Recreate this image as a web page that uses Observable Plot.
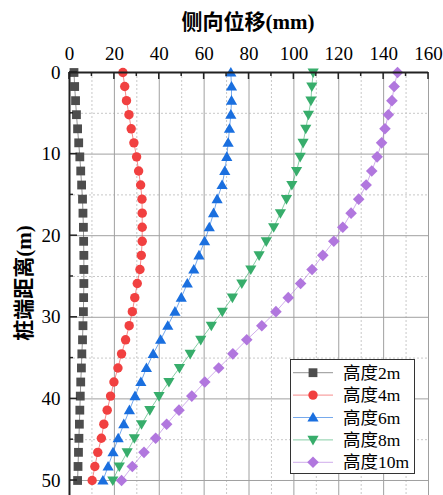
<!DOCTYPE html>
<html><head><meta charset="utf-8">
<script src="https://cdn.jsdelivr.net/npm/d3@7"></script>
<script src="https://cdn.jsdelivr.net/npm/@observablehq/plot@0.6"></script>
<style>body{margin:0;background:#fff} svg{display:block}</style>
</head><body><div id="chart"></div>
<script>
// depth below pile top (m)
const depth = [0, 1.72, 3.45, 5.17, 6.90, 8.62, 10.34, 12.07, 13.79, 15.52, 17.24, 18.97, 20.69, 22.41, 24.14, 25.86, 27.59, 29.31, 31.03, 32.76, 34.48, 36.21, 37.93, 39.66, 41.38, 43.10, 44.83, 46.55, 48.28, 50];
// lateral displacement (mm)
const h2  = [2.0, 2.3, 2.7, 3.1, 3.6, 4.1, 4.6, 5.0, 5.4, 5.8, 6.0, 6.2, 6.3, 6.4, 6.4, 6.4, 6.3, 6.2, 6.0, 5.8, 5.5, 5.3, 5.0, 4.8, 4.6, 4.4, 4.2, 4.0, 3.8, 3.6];
const h4  = [23.8, 24.6, 25.4, 26.5, 27.5, 28.7, 29.9, 30.8, 31.7, 32.3, 32.4, 32.4, 32.4, 32.0, 31.4, 30.2, 29.1, 28.0, 26.6, 25.0, 23.2, 21.6, 19.8, 18.3, 16.8, 15.3, 14.2, 12.6, 11.3, 10.1];
const h6  = [71.9, 72.2, 72.2, 71.9, 71.3, 70.7, 70.1, 69.2, 68.0, 65.8, 64.2, 62.3, 60.2, 57.7, 55.4, 52.5, 49.8, 47.0, 43.8, 40.6, 37.3, 34.3, 31.8, 29.2, 26.7, 24.2, 21.7, 19.4, 17.2, 14.9];
const h8  = [108.6, 108.0, 107.6, 106.5, 105.3, 104.1, 102.8, 101.2, 99.1, 96.7, 94.0, 91.0, 87.7, 84.5, 80.8, 76.8, 72.6, 68.1, 63.2, 58.5, 53.8, 49.0, 44.3, 39.9, 35.8, 32.1, 28.9, 25.7, 22.2, 19.3];
const h10 = [146.2, 144.7, 143.7, 142.1, 140.6, 139.1, 137.1, 134.7, 132.2, 128.9, 125.5, 121.8, 117.8, 112.9, 108.1, 103.0, 97.5, 92.0, 85.7, 79.0, 72.8, 66.5, 60.3, 54.5, 48.8, 43.3, 38.4, 33.2, 28.0, 23.2];
const seriesNames = ["高度2m", "高度4m", "高度6m", "高度8m", "高度10m"];
const xTicks = [0, 20, 40, 60, 80, 100, 120, 140, 160];
const xMinor = [10, 30, 50, 70, 90, 110, 130, 150];
const yTicks = [0, 10, 20, 30, 40, 50];
const yMinor = [5, 15, 25, 35, 45];
const xTitle = "侧向位移(mm)";
const yTitle = "桩端距离(m)";

const colors = ["#4d4d4d", "#f14040", "#1a6fdf", "#37ad6b", "#b177de"];
const symSquare = {draw(c){const s=4.4; c.moveTo(-s,-s); c.lineTo(s,-s); c.lineTo(s,s); c.lineTo(-s,s); c.closePath();}};
const symCircle = {draw(c){const r=4.7; c.moveTo(r,0); c.arc(0,0,r,0,2*Math.PI); c.closePath();}};
const symUp = {draw(c){const w=5.6,h=9.6; c.moveTo(0,-h*0.58); c.lineTo(w,h*0.42); c.lineTo(-w,h*0.42); c.closePath();}};
const symDown = {draw(c){const w=5.6,h=9.6; c.moveTo(0,h*0.58); c.lineTo(w,-h*0.42); c.lineTo(-w,-h*0.42); c.closePath();}};
const symDiamond = {draw(c){const r=5.8; c.moveTo(0,-r); c.lineTo(r,0); c.lineTo(0,r); c.lineTo(-r,0); c.closePath();}};
const symbols = [symSquare, symCircle, symUp, symDown, symDiamond];
const values = [h2, h4, h6, h8, h10];

const font = "'Liberation Serif','Times New Roman','Noto Sans CJK SC',serif";

const seriesMarks = values.flatMap((vals, k) => {
  const rows = vals.map((v, i) => ({x: v, y: depth[i]}));
  return [
    Plot.line(rows, {x: "x", y: "y", stroke: colors[k], strokeOpacity: 0.6, strokeWidth: 1}),
    Plot.dot(rows, {x: "x", y: "y", symbol: symbols[k], fill: colors[k], stroke: "none", r: 4})
  ];
});

const chart = Plot.plot({
  width: 443, height: 495,
  marginTop: 72, marginLeft: 69, marginRight: 15, marginBottom: 0,
  style: {fontFamily: font, fontSize: "19px", color: "#000", background: "#fff"},
  x: {domain: [0, 160]},
  y: {domain: [0, 51.84], reverse: true},
  marks: [
    Plot.gridX(xMinor, {stroke: "#c8c8c8", strokeOpacity: 1, strokeDasharray: "2,2"}),
    Plot.gridY(yMinor, {stroke: "#c8c8c8", strokeOpacity: 1, strokeDasharray: "2,2"}),
    Plot.gridX(xTicks, {stroke: "#a0a0a0", strokeOpacity: 1}),
    Plot.gridY(yTicks, {stroke: "#a0a0a0", strokeOpacity: 1}),
    Plot.axisX(xTicks, {anchor: "top", tickSize: 0, tickPadding: 13, fontSize: 19, fontFamily: font, label: null}),
    Plot.axisY(yTicks, {anchor: "left", tickSize: 0, tickPadding: 9, fontSize: 19, fontFamily: font, label: null}),
    ...seriesMarks,
    Plot.ruleY([0], {stroke: "#222", strokeWidth: 2}),
    Plot.ruleX([0], {stroke: "#222", strokeWidth: 2})
  ]
});

const svg = d3.select(chart);
const sx = chart.scale("x"), sy = chart.scale("y");
const y0 = sy.apply(0), x0 = sx.apply(0);
const tg = svg.append("g").attr("stroke", "#222").attr("stroke-width", 1.5);
xTicks.forEach(v => tg.append("line").attr("x1", sx.apply(v)).attr("x2", sx.apply(v)).attr("y1", y0).attr("y2", y0 + 7));
xMinor.forEach(v => tg.append("line").attr("x1", sx.apply(v)).attr("x2", sx.apply(v)).attr("y1", y0).attr("y2", y0 + 4));
yTicks.forEach(v => tg.append("line").attr("y1", sy.apply(v)).attr("y2", sy.apply(v)).attr("x1", x0).attr("x2", x0 + 8));
yMinor.forEach(v => tg.append("line").attr("y1", sy.apply(v)).attr("y2", sy.apply(v)).attr("x1", x0).attr("x2", x0 + 4));

svg.append("text").attr("x", 248).attr("y", 29).attr("text-anchor", "middle")
  .attr("font-family", font).attr("font-size", 21).attr("font-weight", "bold").attr("fill", "#000").text(xTitle);
svg.append("text").attr("transform", "translate(31,283) rotate(-90)").attr("text-anchor", "middle")
  .attr("font-family", font).attr("font-size", 21).attr("font-weight", "bold").attr("fill", "#000").text(yTitle);

// legend
const lg = svg.append("g");
lg.append("rect").attr("x", 290.5).attr("y", 359.5).attr("width", 124).attr("height", 114)
  .attr("fill", "#fff").attr("stroke", "#333").attr("stroke-width", 1);
seriesNames.forEach((name, k) => {
  const yy = 372.7 + k * 22.4;
  lg.append("line").attr("x1", 293).attr("x2", 333).attr("y1", yy).attr("y2", yy)
    .attr("stroke", colors[k]).attr("stroke-opacity", 0.6).attr("stroke-width", 1);
  lg.append("path").attr("d", d3.symbol(symbols[k])()).attr("transform", `translate(313,${yy})`).attr("fill", colors[k]);
  lg.append("text").attr("x", 343).attr("y", yy + 6).attr("text-anchor", "start").attr("font-family", font).attr("font-size", 17.5)
    .attr("fill", "#000").text(name);
});

document.getElementById("chart").append(chart);
</script>
</body></html>
